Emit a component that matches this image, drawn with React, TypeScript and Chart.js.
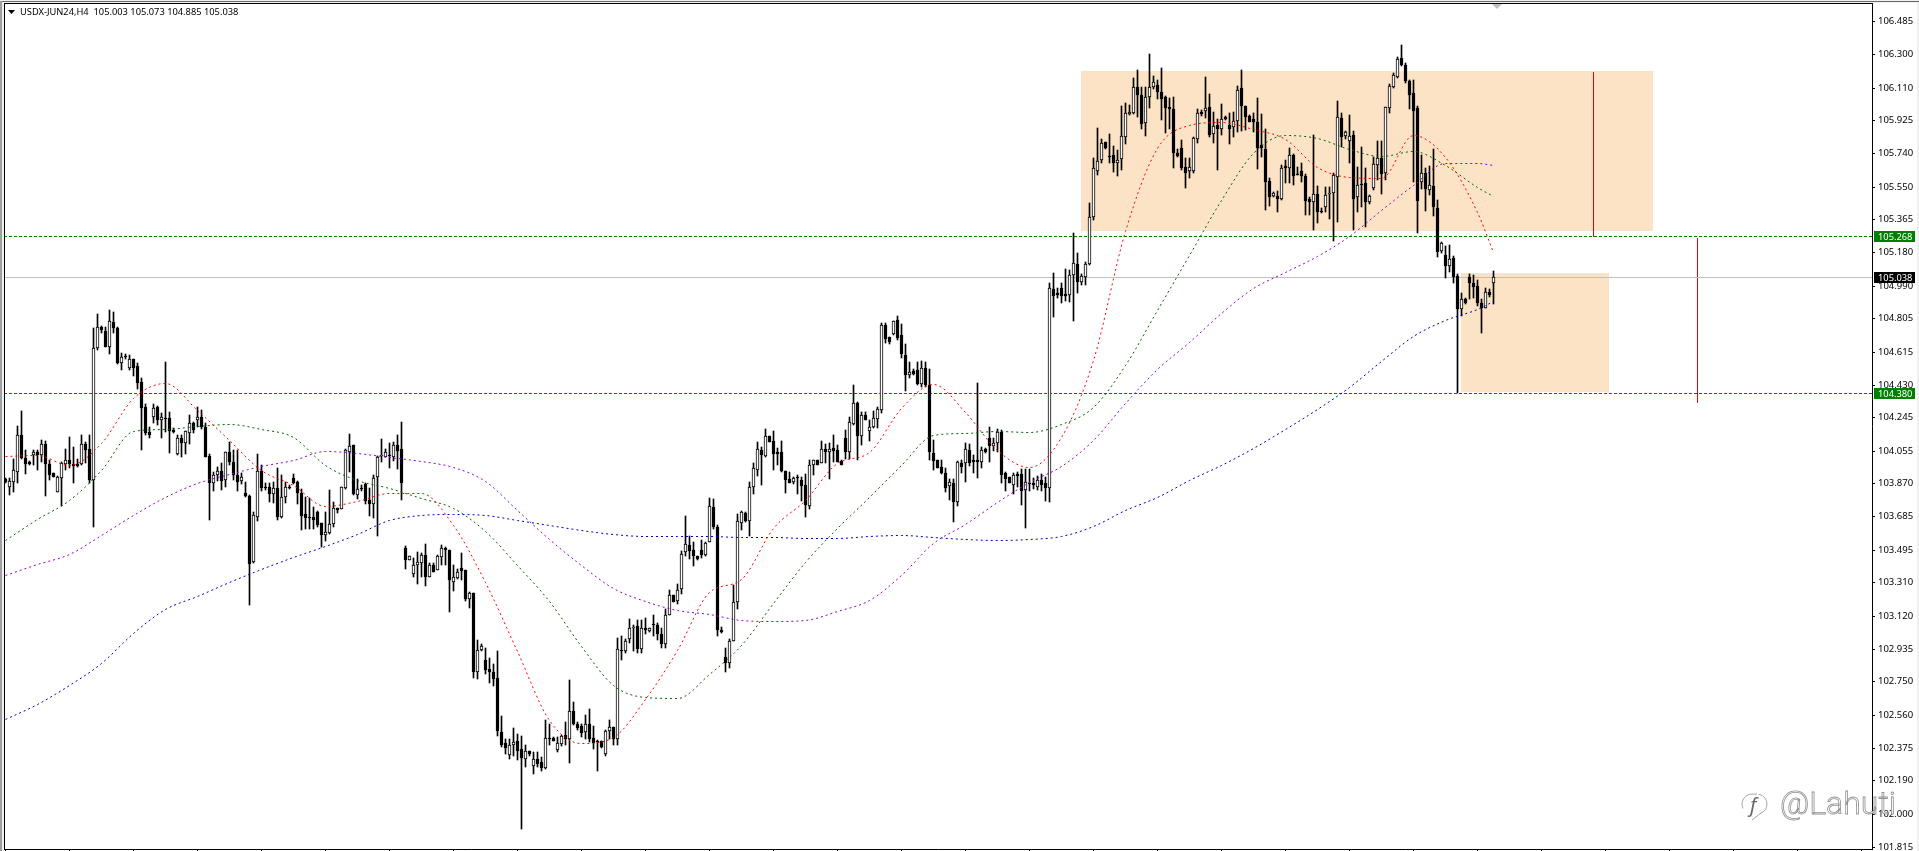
// App.tsx
import { useEffect, useRef } from 'react';
import { Chart, LinearScale, registerables } from 'chart.js';

Chart.register(...registerables);

const opens = [
  103.895,103.852,103.878,103.937,104.144,104.014,103.991,104.033,104.048,104.033,
  104.093,103.982,103.929,103.824,103.903,103.982,104.001,103.982,103.982,103.982,
  104.093,104.065,103.888,104.638,104.753,104.731,104.644,104.784,104.750,104.553,
  104.593,104.523,104.572,104.535,104.442,104.301,104.161,104.244,104.301,104.231,
  104.237,104.238,104.172,104.039,104.125,104.101,104.157,104.210,104.227,104.248,
  104.191,104.027,103.874,103.920,103.939,103.890,104.046,103.990,103.916,103.886,
  103.815,103.800,103.428,103.683,103.941,103.851,103.849,103.811,103.843,103.683,
  103.792,103.852,103.900,103.877,103.815,103.696,103.681,103.681,103.709,103.645,
  103.581,103.592,103.639,103.730,103.724,103.845,104.049,104.088,103.807,103.847,
  103.868,103.777,103.753,103.905,104.024,104.018,104.032,104.022,104.088,104.064,
  103.505,103.439,103.360,103.406,103.422,103.466,103.340,103.407,103.383,103.456,
  103.504,103.494,103.315,103.334,103.390,103.381,103.215,103.250,102.805,102.928,
  102.870,102.821,102.806,102.767,102.462,102.403,102.334,102.388,102.411,102.368,
  102.314,102.355,102.274,102.314,102.292,102.260,102.429,102.431,102.363,102.395,
  102.447,102.422,102.582,102.512,102.498,102.462,102.512,102.431,102.413,102.411,
  102.339,102.467,102.491,102.422,102.926,102.920,102.989,103.050,103.063,102.936,
  103.055,103.035,103.071,103.069,103.019,102.964,103.124,103.238,103.204,103.274,
  103.481,103.522,103.492,103.457,103.492,103.467,103.537,103.735,103.622,103.039,
  102.886,102.857,102.978,103.198,103.647,103.703,103.656,103.849,103.948,104.057,
  104.028,104.136,104.109,104.046,104.047,103.940,103.894,103.876,103.904,103.890,
  103.862,103.745,103.974,104.001,103.988,104.063,104.047,104.069,104.057,103.999,
  104.125,104.047,104.208,104.325,104.141,104.256,104.168,104.190,104.235,104.288,
  104.767,104.697,104.717,104.793,104.709,104.596,104.484,104.504,104.513,104.435,
  104.522,104.430,104.044,104.001,103.964,103.932,103.853,103.872,103.766,103.984,
  103.984,104.059,104.003,104.003,103.990,104.065,104.125,104.084,104.101,104.161,
  103.927,103.907,103.859,103.922,103.924,103.833,103.875,103.873,103.852,103.888,
  103.871,103.843,104.970,104.946,104.974,104.942,104.938,105.052,105.110,105.012,
  105.036,105.112,105.376,105.640,105.700,105.800,105.724,105.727,105.681,105.704,
  105.829,105.961,105.968,106.111,106.066,105.912,106.055,106.115,106.125,106.083,
  106.055,105.998,105.987,105.742,105.766,105.659,105.636,105.640,105.817,105.970,
  105.979,105.998,105.849,105.896,105.878,105.942,105.898,105.885,105.919,106.105,
  106.006,105.947,105.932,105.917,105.785,105.763,105.581,105.496,105.496,105.478,
  105.666,105.657,105.729,105.621,105.638,105.612,105.481,105.464,105.508,105.414,
  105.432,105.510,105.512,105.606,105.936,105.836,105.810,105.842,105.493,105.564,
  105.570,105.462,105.540,105.672,105.712,105.629,105.993,106.111,106.172,106.277,
  106.238,106.147,106.077,105.993,105.578,105.625,105.530,105.553,105.427,105.187,
  105.163,105.102,105.148,105.044,104.855,104.912,105.036,105.003,104.987,104.889,
  104.865,104.953,105.003,
];

const closes = [
  103.880,103.884,103.944,104.144,104.014,103.982,103.982,104.046,104.033,104.091,
  103.982,103.918,103.908,103.907,103.986,104.001,103.982,103.971,103.971,104.093,
  104.059,103.890,104.635,104.753,104.738,104.644,104.787,104.751,104.553,104.584,
  104.584,104.572,104.523,104.440,104.299,104.157,104.146,104.297,104.231,104.244,
  104.235,104.169,104.163,104.125,104.101,104.165,104.210,104.171,104.244,104.191,
  104.022,103.874,103.918,103.939,103.886,104.046,103.993,103.916,103.880,103.905,
  103.802,103.415,103.692,103.941,103.847,103.843,103.811,103.843,103.683,103.792,
  103.849,103.847,103.873,103.819,103.688,103.677,103.677,103.666,103.636,103.581,
  103.594,103.639,103.732,103.720,103.849,104.058,104.081,103.811,103.839,103.836,
  103.773,103.756,103.900,104.018,104.032,104.047,104.026,104.088,104.056,103.871,
  103.439,103.458,103.407,103.424,103.466,103.343,103.407,103.372,103.460,103.504,
  103.492,103.326,103.340,103.368,103.375,103.217,103.249,102.803,102.926,102.950,
  102.817,102.801,102.765,102.467,102.393,102.373,102.389,102.407,102.357,102.319,
  102.355,102.339,102.310,102.285,102.262,102.431,102.427,102.415,102.399,102.439,
  102.424,102.582,102.509,102.485,102.458,102.512,102.422,102.403,102.409,102.377,
  102.469,102.491,102.427,102.932,102.920,102.980,103.051,103.055,102.936,103.051,
  103.043,103.051,103.068,103.016,102.964,103.124,103.238,103.202,103.268,103.472,
  103.526,103.488,103.457,103.441,103.465,103.532,103.741,103.624,103.039,103.031,
  102.855,102.980,103.198,103.656,103.707,103.656,103.849,103.956,104.063,104.031,
  104.136,104.107,104.039,104.039,103.940,103.892,103.872,103.900,103.900,103.854,
  103.747,103.977,104.001,103.977,104.063,104.047,104.063,104.053,103.992,103.977,
  104.047,104.217,104.327,104.136,104.256,104.232,104.192,104.238,104.289,104.765,
  104.690,104.668,104.787,104.693,104.600,104.481,104.500,104.488,104.435,104.522,
  104.425,104.047,103.999,103.957,103.930,103.844,103.876,103.766,103.990,103.965,
  104.063,103.988,103.993,103.993,104.059,104.050,104.084,104.097,104.161,103.920,
  103.897,103.875,103.916,103.912,103.829,103.880,103.867,103.861,103.888,103.861,
  103.844,104.974,104.933,104.938,104.933,104.933,105.048,105.116,105.012,105.044,
  105.110,105.376,105.653,105.696,105.795,105.766,105.719,105.685,105.698,105.836,
  105.964,105.974,106.115,106.070,105.904,106.055,106.111,106.140,106.087,106.047,
  105.996,105.991,105.742,105.724,105.657,105.629,105.659,105.823,105.964,105.961,
  105.993,105.844,105.893,105.878,105.930,105.934,105.878,105.919,106.094,106.008,
  105.942,105.917,105.917,105.770,105.766,105.578,105.493,105.515,105.478,105.653,
  105.657,105.727,105.612,105.617,105.612,105.470,105.464,105.506,105.408,105.406,
  105.502,105.513,105.615,105.942,105.832,105.859,105.836,105.481,105.557,105.557,
  105.464,105.496,105.678,105.710,105.621,105.998,106.119,106.179,106.270,106.238,
  106.147,106.070,105.979,105.470,105.625,105.538,105.559,105.432,105.182,105.229,
  105.102,105.140,105.040,104.857,104.912,104.889,105.003,104.984,104.893,104.861,
  104.955,104.936,105.038,
];

const highs = [
  103.901,103.899,104.006,104.195,104.280,104.059,103.999,104.059,104.059,104.116,
  104.108,104.003,103.929,103.912,103.993,104.063,104.133,104.078,104.006,104.144,
  104.106,104.144,104.748,104.829,104.761,104.753,104.851,104.840,104.753,104.606,
  104.602,104.597,104.572,104.553,104.465,104.320,104.191,104.320,104.306,104.267,
  104.557,104.276,104.182,104.144,104.144,104.169,104.255,104.220,104.301,104.286,
  104.214,104.037,103.937,103.961,103.984,104.050,104.106,104.059,104.059,103.931,
  103.881,103.805,103.711,104.037,103.975,103.871,103.871,103.881,103.956,103.918,
  103.881,103.860,103.924,103.885,103.837,103.792,103.790,103.739,103.717,103.645,
  103.709,103.832,103.764,103.732,103.849,104.064,104.149,104.088,103.894,103.862,
  103.871,103.843,103.918,104.026,104.120,104.064,104.098,104.107,104.145,104.216,
  103.517,103.458,103.447,103.485,103.475,103.528,103.419,103.419,103.466,103.522,
  103.513,103.494,103.409,103.385,103.475,103.381,103.258,103.250,102.985,102.964,
  102.940,102.880,102.850,102.920,102.552,102.422,102.422,102.487,102.453,102.439,
  102.393,102.359,102.353,102.348,102.323,102.532,102.512,102.437,102.437,102.449,
  102.523,102.757,102.632,102.518,102.512,102.558,102.592,102.496,102.419,102.413,
  102.473,102.532,102.493,102.994,103.005,102.989,103.103,103.069,103.095,103.095,
  103.108,103.055,103.127,103.079,103.050,103.158,103.268,103.238,103.302,103.490,
  103.685,103.575,103.537,103.461,103.552,103.537,103.789,103.784,103.636,103.059,
  102.940,102.989,103.294,103.696,103.715,103.709,103.878,103.984,104.107,104.077,
  104.179,104.136,104.165,104.069,104.109,103.943,103.934,103.904,103.918,103.908,
  103.923,104.001,104.001,104.004,104.109,104.093,104.097,104.143,104.085,104.001,
  104.170,104.246,104.430,104.331,104.276,104.276,104.232,104.278,104.302,104.778,
  104.778,104.699,104.789,104.816,104.773,104.659,104.560,104.515,104.560,104.564,
  104.560,104.516,104.118,104.004,104.004,103.957,103.898,103.898,103.997,104.003,
  104.097,104.093,104.031,104.437,104.074,104.069,104.188,104.125,104.180,104.172,
  103.937,103.908,103.927,103.937,103.950,103.950,103.954,103.899,103.912,103.924,
  103.905,105.003,105.059,104.974,105.003,105.082,105.078,105.285,105.172,105.055,
  105.125,105.455,105.710,105.880,105.817,105.804,105.845,105.780,105.757,106.006,
  106.021,106.010,106.162,106.209,106.111,106.111,106.300,106.175,106.153,106.219,
  106.062,106.049,106.055,105.761,105.813,105.710,105.710,105.828,105.987,105.983,
  106.168,106.072,105.974,105.932,106.017,105.949,105.964,105.974,106.119,106.209,
  106.006,105.955,105.964,106.049,105.961,105.874,105.596,105.517,105.525,105.672,
  105.700,105.766,105.734,105.662,105.681,105.621,105.493,105.842,105.553,105.427,
  105.549,105.549,105.625,106.034,105.964,105.866,105.955,105.866,105.662,105.776,
  105.653,105.502,105.719,105.810,105.810,106.002,106.128,106.191,106.281,106.351,
  106.247,106.153,106.153,106.006,105.729,105.653,105.666,105.763,105.474,105.238,
  105.214,105.219,105.157,105.055,104.946,104.921,105.055,105.050,105.021,104.912,
  104.974,104.968,105.073,
];

const lows = [
  103.871,103.805,103.824,103.874,104.006,103.924,103.973,103.974,103.946,103.990,
  103.801,103.890,103.908,103.824,103.744,103.946,103.956,103.874,103.965,103.974,
  103.984,103.874,103.626,104.625,104.719,104.644,104.602,104.719,104.546,104.512,
  104.572,104.512,104.478,104.403,104.059,104.144,104.127,104.214,104.201,104.127,
  104.163,104.044,104.157,104.031,104.018,104.037,104.093,104.157,104.191,104.176,
  104.018,103.663,103.827,103.886,103.833,103.852,103.974,103.890,103.829,103.867,
  103.796,103.183,103.422,103.660,103.830,103.834,103.768,103.762,103.664,103.677,
  103.762,103.837,103.868,103.754,103.609,103.611,103.613,103.611,103.626,103.513,
  103.547,103.583,103.626,103.705,103.724,103.837,103.937,103.805,103.781,103.828,
  103.754,103.687,103.677,103.575,103.994,104.018,103.960,103.998,103.951,103.777,
  103.389,103.439,103.340,103.302,103.340,103.290,103.340,103.372,103.383,103.406,
  103.409,103.145,103.264,103.330,103.324,103.207,103.164,102.769,102.763,102.924,
  102.790,102.741,102.725,102.442,102.379,102.339,102.314,102.328,102.303,101.916,
  102.264,102.330,102.228,102.264,102.244,102.254,102.393,102.413,102.353,102.383,
  102.393,102.288,102.503,102.478,102.433,102.422,102.407,102.368,102.244,102.373,
  102.330,102.422,102.393,102.388,102.873,102.909,102.970,102.920,102.910,102.909,
  103.019,103.030,103.009,102.983,102.940,102.940,103.124,103.202,103.189,103.244,
  103.461,103.443,103.403,103.436,103.447,103.457,103.537,103.611,103.009,103.023,
  102.801,102.826,102.976,103.158,103.606,103.652,103.572,103.811,103.914,103.864,
  104.019,104.107,103.946,103.974,103.934,103.818,103.871,103.869,103.811,103.771,
  103.681,103.727,103.918,103.974,103.984,103.988,103.897,103.990,103.990,103.974,
  104.006,104.006,104.202,104.004,104.089,104.232,104.113,104.183,104.183,104.268,
  104.666,104.659,104.711,104.684,104.580,104.395,104.466,104.482,104.427,104.415,
  104.415,104.004,103.946,103.957,103.923,103.824,103.779,103.652,103.745,103.927,
  103.880,103.971,103.931,103.899,103.959,104.040,103.993,104.056,104.050,103.875,
  103.829,103.871,103.810,103.848,103.748,103.620,103.829,103.837,103.833,103.829,
  103.773,103.767,104.814,104.918,104.889,104.903,104.899,104.791,104.946,104.993,
  104.993,105.106,105.361,105.616,105.685,105.761,105.685,105.634,105.612,105.644,
  105.791,105.955,105.961,105.945,105.874,105.836,105.996,106.100,106.045,105.927,
  105.851,105.874,105.655,105.719,105.644,105.544,105.601,105.629,105.798,105.949,
  105.936,105.832,105.795,105.644,105.841,105.927,105.791,105.829,105.861,105.866,
  105.870,105.917,105.861,105.649,105.719,105.417,105.440,105.489,105.406,105.474,
  105.568,105.568,105.559,105.615,105.578,105.389,105.389,105.304,105.346,105.398,
  105.404,105.365,105.244,105.351,105.776,105.817,105.681,105.304,105.408,105.436,
  105.319,105.451,105.530,105.587,105.508,105.587,105.968,106.106,106.162,106.234,
  106.134,105.989,105.578,105.289,105.536,105.414,105.502,105.385,105.150,105.172,
  105.031,105.068,105.003,104.380,104.818,104.885,104.912,104.918,104.874,104.719,
  104.861,104.927,104.885,
];

// moving averages, read every 8 bars
const maBars = [
  0,8,16,24,32,40,48,56,64,72,80,88,96,104,112,120,128,136,144,152,160,168,176,184,
  192,200,208,216,224,232,240,248,256,264,272,280,288,296,304,312,320,328,336,344,352,360,368,372,
];
const maRed = [
  104.026,104.031,103.975,104.099,104.354,104.439,104.286,104.116,103.946,103.861,103.743,103.771,
  103.816,103.816,103.635,103.313,102.922,102.532,102.402,102.436,102.651,102.928,103.256,103.329,
  103.618,103.777,103.986,104.048,104.297,104.433,104.274,104.059,103.963,104.133,104.569,105.299,
  105.768,105.898,105.915,105.875,105.819,105.661,105.604,105.598,105.842,105.717,105.406,105.180,
];
const maGreen = [
  103.550,103.669,103.777,103.946,104.167,104.178,104.195,104.207,104.178,104.133,103.975,103.890,
  103.844,103.788,103.731,103.601,103.409,103.205,102.950,102.730,102.662,102.656,102.792,102.956,
  103.194,103.426,103.618,103.794,103.975,104.144,104.156,104.167,104.161,104.207,104.303,104.540,
  104.851,105.163,105.474,105.740,105.842,105.825,105.763,105.723,105.751,105.672,105.548,105.497,
];
const maPurple = [
  103.352,103.414,103.471,103.579,103.692,103.794,103.873,103.924,103.969,104.003,104.054,104.043,
  104.020,103.997,103.963,103.884,103.720,103.556,103.409,103.279,103.205,103.154,103.131,103.097,
  103.092,103.097,103.148,103.211,103.352,103.533,103.641,103.765,103.878,103.969,104.116,104.325,
  104.518,104.670,104.834,104.976,105.067,105.157,105.270,105.417,105.559,105.683,105.683,105.672,
];
const maBlue = [
  102.537,102.622,102.730,102.854,103.024,103.160,103.233,103.313,103.386,103.454,103.516,103.584,
  103.663,103.692,103.698,103.692,103.663,103.635,103.607,103.584,103.573,103.573,103.573,103.567,
  103.567,103.561,103.561,103.573,103.579,103.567,103.556,103.550,103.556,103.573,103.629,103.720,
  103.794,103.890,103.975,104.071,104.178,104.291,104.416,104.563,104.705,104.795,104.857,104.902,
];

const priceTicks = [
  106.485,106.300,106.110,105.925,105.740,105.550,105.365,105.180,104.990,104.805,104.615,104.430,104.245,
  104.055,103.870,103.685,103.495,103.310,103.120,102.935,102.750,102.560,102.375,102.190,102.000,101.815,
];
const timeTicks = [
  0,16,32,48,64,80,96,112,128,144,160,176,192,208,224,240,256,272,288,304,320,336,352,368,384,400,416,432,448,464,
];

const levels = [105.268, 104.38];
const lastPrice = 105.038;
const title = 'USDX-JUN24,H4  105.003 105.073 104.885 105.038';

// [first bar, last bar, top price, bottom price]
const zones = [
  [268.875, 411.875, 106.204, 105.3],
  [363.875, 400.875, 105.061, 104.388],
];
// [bar, top price, bottom price]
const ranges = [
  [397, 106.198, 105.268],
  [423, 105.259, 104.331],
];

const xMin = -0.375;
const xMax = 466.625;
const font = '"Noto Sans"';

const maLine = (data: number[], color: string) => ({
  type: 'line' as const,
  data: data.map((y, i) => ({ x: maBars[i], y })),
  borderColor: color,
  borderWidth: 1,
  borderDash: [2, 3],
  pointRadius: 0,
  cubicInterpolationMode: 'monotone' as const,
  order: 0,
});

const flatLine = (xs: number[], ys: number[], color: string, dash: number[], order: number) => ({
  type: 'line' as const,
  data: xs.map((x, i) => ({ x, y: ys[i] })),
  borderColor: color,
  borderWidth: 1,
  borderDash: dash,
  pointRadius: 0,
  order,
});

// snaps prices to whole pixels so candles stay sharp like the terminal's
const snapPixels = (scale: any) => {
  if (scale.snapped) return;
  scale.snapped = true;
  const base = LinearScale.prototype.getPixelForValue;
  scale.getPixelForValue = function (v: number) {
    return Math.round(base.call(this, v));
  };
};

const halfPixel = {
  id: 'halfPixel',
  beforeDatasetDraw(chart: any, args: any) {
    const ds = chart.data.datasets[args.index];
    chart.ctx.save();
    if (ds.type === 'line' && !ds.fill) chart.ctx.translate(0, 0.5);
  },
  afterDatasetDraw(chart: any) {
    chart.ctx.restore();
  },
};

const chrome = {
  id: 'chrome',
  afterDraw(chart: any) {
    const { ctx, scales } = chart;
    const y = scales.y;
    ctx.save();
    // window frame
    ctx.fillStyle = '#f0f0f0';
    ctx.fillRect(0, 0, 1919, 3);
    ctx.fillRect(0, 0, 4, 851);
    ctx.fillRect(1917, 0, 2, 851);
    ctx.fillStyle = '#696969';
    ctx.fillRect(0, 1, 1919, 1);
    ctx.fillStyle = '#a0a0a0';
    ctx.fillRect(0, 1, 2, 850);
    ctx.fillStyle = '#000';
    ctx.fillRect(4, 3, 1869, 1);
    ctx.fillRect(4, 3, 1, 846);

    // header
    ctx.beginPath();
    ctx.moveTo(8, 10);
    ctx.lineTo(15, 10);
    ctx.lineTo(11.5, 14);
    ctx.fill();
    ctx.font = `9.3px ${font}`;
    ctx.textBaseline = 'middle';
    ctx.textAlign = 'left';
    ctx.fillText(title, 20, 12);

    // shift marker
    ctx.fillStyle = '#c0c0c0';
    ctx.beginPath();
    ctx.moveTo(1492, 4);
    ctx.lineTo(1502, 4);
    ctx.lineTo(1497, 9);
    ctx.fill();

    // price tags
    const tag = (value: number, bg: string) => {
      const py = y.getPixelForValue(value);
      ctx.fillStyle = bg;
      ctx.fillRect(1874, py - 5, 41, 11);
      ctx.fillStyle = '#fff';
      ctx.fillText(value.toFixed(3), 1878, py + 1);
    };
    tag(levels[0], '#008000');
    tag(levels[1], '#008000');
    tag(lastPrice, '#000');

    // watermark
    ctx.font = `300 32px Roboto`;
    ctx.textBaseline = 'alphabetic';
    ctx.fillStyle = '#fff';
    ctx.strokeStyle = '#909090';
    ctx.lineWidth = 0.8;
    ctx.fillText('@Lahuti', 1780, 814);
    ctx.strokeText('@Lahuti', 1780, 814);
    ctx.beginPath();
    ctx.arc(1757, 804, 10, -1.4, 1.2);
    ctx.moveTo(1761, 813);
    ctx.lineTo(1752, 820);
    ctx.moveTo(1757, 794);
    ctx.arc(1752, 804, 10, -1.4, -3.6, true);
    ctx.stroke();
    ctx.font = `italic 20px ${font}`;
    ctx.fillStyle = '#666';
    ctx.fillText('f', 1750, 812);
    ctx.restore();
  },
};

export default function App() {
  const chartRef = useRef<HTMLCanvasElement>(null);

  useEffect(() => {
    if (!chartRef.current) return;

    const chart = new Chart(chartRef.current, {
      type: 'bar',
      data: {
        datasets: [
          ...zones.map(([x0, x1, top, bottom]) => ({
            type: 'line' as const,
            data: [{ x: x0, y: top }, { x: x1, y: top }],
            borderWidth: 0,
            pointRadius: 0,
            fill: { value: bottom },
            backgroundColor: '#fde3c5',
            order: 9,
          })),
          flatLine([xMin, xMax], [levels[0], levels[0]], '#008000', [3, 2], 8),
          flatLine([xMin, xMax], [levels[1], levels[1]], '#008000', [3, 2], 8),
          flatLine([xMin, xMax], [lastPrice, lastPrice], '#c0c0c0', [], 8),
          ...ranges.map(([x, top, bottom]) => flatLine([x, x], [top, bottom], '#e60000', [], 8)),
          {
            type: 'bar' as const,
            data: highs.map((h, i) => ({ x: i, y: [lows[i], h] })),
            backgroundColor: '#000',
            barThickness: 1,
            grouped: false,
            order: 3,
          },
          {
            type: 'bar' as const,
            data: opens.map((o, i) => ({ x: i, y: [o, closes[i]] })),
            backgroundColor: opens.map((o, i) => (closes[i] >= o ? '#fff' : '#000')),
            borderColor: '#000',
            borderWidth: 1,
            borderSkipped: false,
            barThickness: 3,
            minBarLength: 1,
            grouped: false,
            order: 2,
          },
          maLine(maRed, '#ff0000'),
          maLine(maGreen, '#006400'),
          maLine(maPurple, '#9400d3'),
          maLine(maBlue, '#0000cd'),
        ] as any,
      },
      options: {
        responsive: false,
        animation: false,
        devicePixelRatio: 1,
        layout: { padding: { left: 4, top: 3, right: 0, bottom: 0 } },
        plugins: { legend: { display: false }, tooltip: { enabled: false } },
        scales: {
          x: {
            type: 'linear',
            min: xMin,
            max: xMax,
            offset: false,
            grid: { offset: false, drawOnChartArea: false, tickLength: 2, color: '#000' },
            border: { color: '#000' },
            ticks: { display: false },
            afterBuildTicks: (scale: any) => {
              scale.ticks = timeTicks.map((value) => ({ value }));
            },
            afterFit: (scale: any) => {
              scale.height = 2;
              scale.paddingLeft = 0;
              scale.paddingRight = 0;
            },
          },
          y: {
            type: 'linear',
            position: 'right',
            min: 101.802,
            max: 106.5885,
            grid: { drawOnChartArea: false, tickLength: 3, color: '#000' },
            border: { color: '#000' },
            ticks: {
              color: '#000',
              padding: 3,
              autoSkip: false,
              font: { family: font, size: 9.5 },
              callback: (value: any) => Number(value).toFixed(3),
            },
            afterBuildTicks: (scale: any) => {
              snapPixels(scale);
              scale.ticks = priceTicks.map((value) => ({ value }));
            },
            afterFit: (scale: any) => {
              scale.width = 47;
              scale.paddingTop = 0;
              scale.paddingBottom = 0;
            },
          },
        },
      },
      plugins: [halfPixel, chrome],
    });

    return () => chart.destroy();
  }, []);

  return (
    <div style={{ position: 'fixed', left: 0, top: 0, width: 1919, height: 851, background: '#fff' }}>
      <canvas ref={chartRef} width={1919} height={851} style={{ display: 'block' }} />
    </div>
  );
}
